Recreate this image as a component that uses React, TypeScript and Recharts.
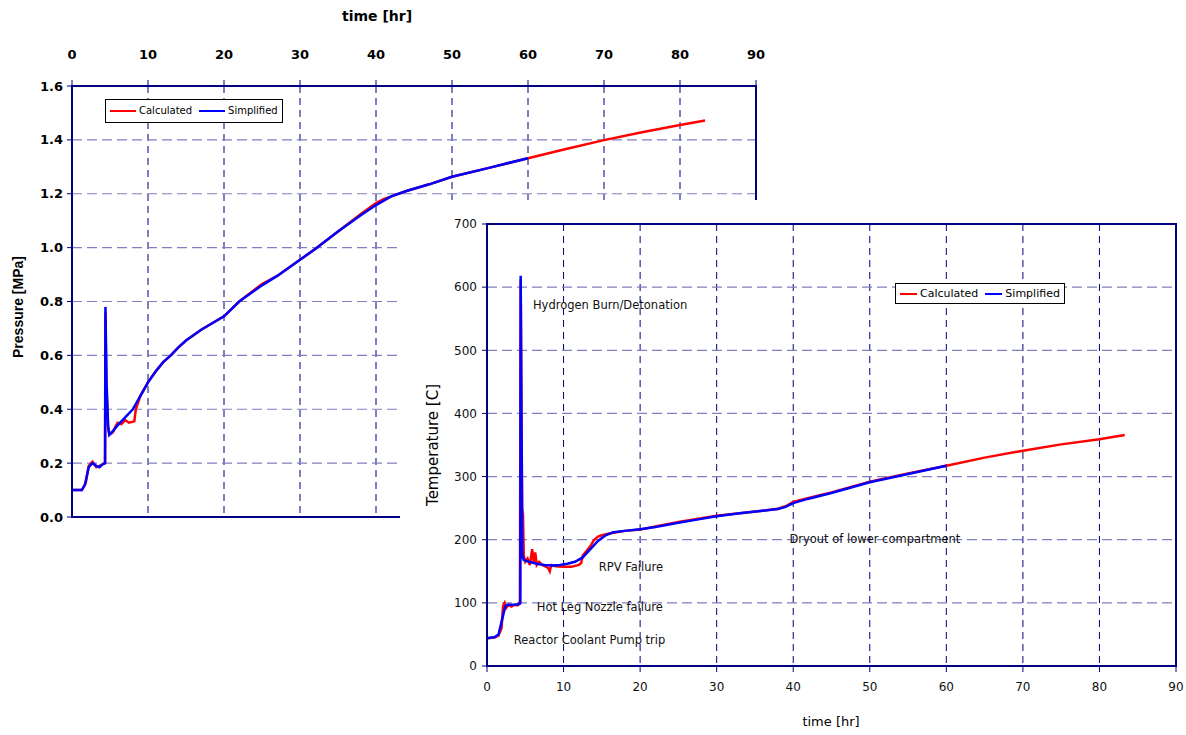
import { LineChart, Line, XAxis, YAxis, CartesianGrid, ReferenceArea, ReferenceDot } from "recharts";

const timeTicks = [0, 10, 20, 30, 40, 50, 60, 70, 80, 90];
const pressureTicks = [0, 0.2, 0.4, 0.6, 0.8, 1.0, 1.2, 1.4, 1.6];
const tempTicks = [0, 100, 200, 300, 400, 500, 600, 700];

// pressure, calculated (red)
const presCalcTime = [0, 1.3, 1.8, 2.2, 2.7, 3.2, 3.6, 4.0, 4.35, 4.4, 4.5, 4.75, 4.9, 5.2, 5.5, 5.7, 6.0, 6.5, 7.0, 7.5, 8.2, 8.4, 8.7, 9, 10, 11, 12, 13, 14, 15, 17, 20, 22, 25, 27, 30, 32, 35, 38, 40, 41, 42, 44, 47, 50, 55, 60, 65, 70, 75, 80, 83.3];
const presCalcValue = [0.1, 0.1, 0.125, 0.19, 0.205, 0.185, 0.19, 0.195, 0.2, 0.76, 0.5, 0.33, 0.31, 0.31, 0.32, 0.335, 0.35, 0.345, 0.36, 0.35, 0.355, 0.4, 0.425, 0.45, 0.5, 0.54, 0.575, 0.6, 0.63, 0.655, 0.695, 0.745, 0.8, 0.865, 0.895, 0.955, 0.995, 1.06, 1.125, 1.165, 1.18, 1.19, 1.21, 1.235, 1.263, 1.297, 1.332, 1.366, 1.399, 1.428, 1.455, 1.472];

// pressure, simplified (blue)
const presSimpTime = [0, 1.3, 1.7, 2.2, 2.7, 3.2, 3.6, 4.0, 4.35, 4.4, 4.55, 4.75, 4.9, 5.4, 6, 7, 8, 9, 10, 11, 12, 13, 14, 15, 17, 20, 22, 25, 27, 30, 32, 35, 38, 40, 42, 44, 47, 50, 55, 60];
const presSimpValue = [0.1, 0.1, 0.12, 0.185, 0.2, 0.19, 0.185, 0.195, 0.2, 0.78, 0.5, 0.34, 0.305, 0.32, 0.34, 0.37, 0.4, 0.45, 0.5, 0.54, 0.575, 0.6, 0.63, 0.655, 0.695, 0.745, 0.8, 0.86, 0.895, 0.955, 0.995, 1.06, 1.12, 1.158, 1.19, 1.21, 1.235, 1.263, 1.297, 1.332];

// temperature, calculated (red)
const tempCalcTime = [0, 1, 1.5, 1.9, 2.1, 2.3, 2.5, 2.8, 3.2, 3.6, 4.0, 4.2, 4.3, 4.4, 4.5, 4.6, 4.7, 4.8, 5.0, 5.3, 5.6, 5.9, 6.1, 6.3, 6.5, 6.8, 7.2, 7.6, 8.0, 8.2, 8.4, 9, 10, 11, 12, 12.3, 12.5, 13, 13.5, 14, 14.5, 15, 16, 18, 20, 22, 25, 28, 30, 33, 36, 38, 39, 40, 42, 45, 50, 55, 60, 65, 70, 75, 80, 83.3];
const tempCalcValue = [44, 45, 48, 60, 95, 100, 92, 97, 94, 97, 96, 100, 97, 612, 400, 250, 240, 175, 165, 170, 160, 185, 165, 180, 160, 165, 160, 158, 155, 150, 160, 158, 157, 157, 160, 163, 175, 182, 190, 200, 205, 207, 210, 214, 216, 221, 228, 234, 238, 242, 246, 249, 253, 260, 266, 275, 292, 305, 317, 330, 341, 351, 359, 366];

// temperature, simplified (blue)
const tempSimpTime = [0, 1, 1.5, 2.0, 2.4, 2.8, 3.5, 4.2, 4.35, 4.4, 4.6, 4.8, 5.5, 6.5, 7.5, 8.5, 9.5, 10.5, 11.5, 12.5, 13.5, 14.5, 15.5, 16.5, 18, 20, 22, 25, 28, 30, 33, 36, 38, 39, 40, 42, 45, 50, 55, 60];
const tempSimpValue = [44, 46, 50, 75, 95, 97, 97, 98, 100, 618, 175, 168, 165, 162, 160, 159, 160, 162, 165, 172, 185, 198, 207, 212, 214, 216.5, 220, 227, 233, 237, 242, 246, 248.5, 252, 258, 265, 274, 291, 304, 317];

const eventNames = ["Hydrogen Burn/Detonation", "RPV Failure", "Hot Leg Nozzle failure", "Reactor Coolant Pump trip", "Dryout of lower compartment"];
const eventTime = [6.0, 14.6, 6.5, 3.5, 39.5];
const eventTemp = [572, 157, 93.5, 41, 201];

const zip = (t: number[], v: number[]) => t.map((x, i) => ({ t: x, v: v[i] }));

const presCalc = zip(presCalcTime, presCalcValue);
const presSimp = zip(presSimpTime, presSimpValue);
const tempCalc = zip(tempCalcTime, tempCalcValue);
const tempSimp = zip(tempSimpTime, tempSimpValue);

const NAVY = "#000080";
const FONT = "'DejaVu Sans', Verdana, sans-serif";

function LegendBox({ left, top, size, lineW, pad }: { left: number; top: number; size: number; lineW: number; pad: number }) {
  return (
    <div
      style={{
        position: "absolute",
        left,
        top,
        border: "1px solid #000",
        background: "#fff",
        padding: `${pad}px 4px`,
        display: "flex",
        alignItems: "center",
        gap: 3,
        fontFamily: FONT,
        fontSize: size,
        color: "#000",
        lineHeight: 1,
      }}
    >
      <span style={{ display: "inline-block", width: lineW, height: 2, background: "#ff0000" }} />
      <span>Calculated</span>
      <span style={{ display: "inline-block", width: lineW, height: 2, background: "#0000ff", marginLeft: 4 }} />
      <span>Simplified</span>
    </div>
  );
}

export default function App() {
  return (
    <div style={{ position: "absolute", left: 0, top: 0, width: 1186, height: 735, background: "#fff", fontFamily: FONT }}>
      {/* pressure chart */}
      <div style={{ position: "absolute", left: 0, top: 0 }}>
        <LineChart width={800} height={530} margin={{ top: 56, right: 44, bottom: 13, left: 22 }}>
          <CartesianGrid horizontal={false} stroke={NAVY} strokeDasharray="7 5" />
          <CartesianGrid vertical={false} stroke="#8080c0" strokeDasharray="10 5" strokeWidth={1.2} />
          <XAxis
            dataKey="t"
            type="number"
            orientation="top"
            domain={[0, 90]}
            ticks={timeTicks}
            height={30}
            tickSize={6}
            tickMargin={21}
            axisLine={{ stroke: NAVY, strokeWidth: 2 }}
            tickLine={{ stroke: NAVY }}
            tick={{ fill: "#000", fontSize: 13, fontWeight: "bold", fontFamily: FONT }}
            interval={0}
          />
          <YAxis
            type="number"
            domain={[0, 1.6]}
            ticks={pressureTicks}
            width={50}
            tickSize={5}
            tickMargin={4}
            axisLine={{ stroke: NAVY, strokeWidth: 2 }}
            tickLine={{ stroke: NAVY }}
            tick={{ fill: "#000", fontSize: 13, fontWeight: "bold", fontFamily: FONT }}
            tickFormatter={(v) => Number(v).toFixed(1)}
            interval={0}
          />
          <ReferenceArea x1={0} x2={90} y1={0} y2={1.6} fill="none" stroke={NAVY} strokeWidth={2} ifOverflow="visible" />
          <Line data={presCalc} dataKey="v" type="linear" stroke="#ff0000" strokeWidth={2.5} dot={false} isAnimationActive={false} />
          <Line data={presSimp} dataKey="v" type="linear" stroke="#0000ff" strokeWidth={2.5} dot={false} isAnimationActive={false} />
        </LineChart>
        <LegendBox left={105} top={99} size={10} lineW={26} pad={6} />
        <div style={{ position: "absolute", left: 342, top: 8, fontSize: 14, fontWeight: "bold", fontFamily: FONT }}>time [hr]</div>
        <div
          style={{
            position: "absolute",
            left: 18,
            top: 307,
            transform: "translate(-50%, -50%) rotate(-90deg)",
            whiteSpace: "nowrap",
            fontSize: 14,
            fontWeight: "bold",
            fontFamily: "'Liberation Sans', Arial, sans-serif",
          }}
        >
          Pressure [MPa]
        </div>
      </div>

      {/* temperature chart */}
      <div style={{ position: "absolute", left: 400, top: 200, width: 786, height: 535, background: "#fff" }}>
        <LineChart width={786} height={535} margin={{ top: 24, right: 10, bottom: 29, left: 32 }}>
          <CartesianGrid horizontal={false} stroke={NAVY} strokeDasharray="7 5" />
          <CartesianGrid vertical={false} stroke="#8080c0" strokeDasharray="10 5" strokeWidth={1.2} />
          <XAxis
            dataKey="t"
            type="number"
            domain={[0, 90]}
            ticks={timeTicks}
            height={40}
            tickSize={6}
            tickMargin={10}
            axisLine={{ stroke: NAVY, strokeWidth: 2 }}
            tickLine={{ stroke: NAVY }}
            tick={{ fill: "#111", fontSize: 12, fontFamily: FONT }}
            interval={0}
          />
          <YAxis
            type="number"
            domain={[0, 700]}
            ticks={tempTicks}
            width={55}
            tickSize={5}
            tickMargin={5}
            axisLine={{ stroke: NAVY, strokeWidth: 2 }}
            tickLine={{ stroke: NAVY }}
            tick={{ fill: "#111", fontSize: 12, fontFamily: FONT }}
            interval={0}
          />
          <ReferenceArea x1={0} x2={90} y1={0} y2={700} fill="none" stroke={NAVY} strokeWidth={2} ifOverflow="visible" />
          <Line data={tempCalc} dataKey="v" type="linear" stroke="#ff0000" strokeWidth={2.5} dot={false} isAnimationActive={false} />
          <Line data={tempSimp} dataKey="v" type="linear" stroke="#0000ff" strokeWidth={2.5} dot={false} isAnimationActive={false} />
          {eventNames.map((name, i) => (
            <ReferenceDot
              key={name}
              x={eventTime[i]}
              y={eventTemp[i]}
              r={0}
              stroke="none"
              fill="none"
              label={{ value: name, position: "right", offset: 0, fill: "#111", fontSize: 11.5, fontFamily: FONT }}
            />
          ))}
        </LineChart>
        <LegendBox left={495} top={83} size={11} lineW={17} pad={4} />
        <div style={{ position: "absolute", left: 431, top: 514, transform: "translateX(-50%)", fontSize: 13, fontFamily: FONT, whiteSpace: "nowrap" }}>
          time [hr]
        </div>
        <div
          style={{
            position: "absolute",
            left: 33,
            top: 245,
            transform: "translate(-50%, -50%) rotate(-90deg)",
            whiteSpace: "nowrap",
            fontSize: 15,
            fontFamily: FONT,
          }}
        >
          Temperature [C]
        </div>
      </div>
    </div>
  );
}
